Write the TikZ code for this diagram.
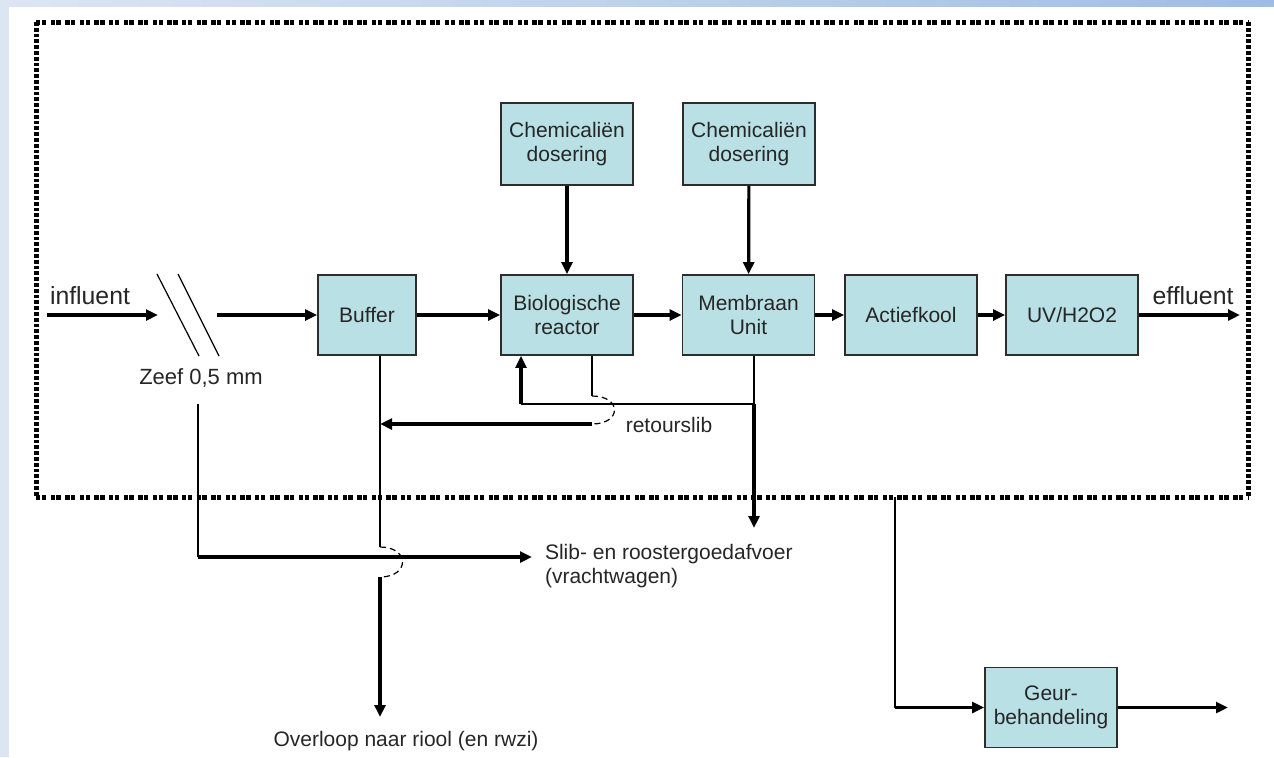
\documentclass[tikz,border=0pt]{standalone}
\usepackage{fontspec}
\setmainfont{Liberation Sans}
\usetikzlibrary{arrows.meta}
\definecolor{cbox}{RGB}{185,224,228}
\definecolor{cedge}{RGB}{45,45,45}
\definecolor{cstripL}{RGB}{220,230,243}
\definecolor{cstripR}{RGB}{158,189,227}
\tikzset{procflow/.style={x=0.5pt,y=-0.5pt,font=\fontsize{10.5}{11.8}\selectfont,text=black!85}}

\begin{document}
\begin{tikzpicture}[procflow,
    unit/.style={draw=cedge,line width=0.8pt,fill=cbox,minimum width=66pt,minimum height=40pt,inner sep=0pt,align=center},
    flow/.style={line width=1.6pt,-{Triangle[length=6pt,width=5.4pt]}},
    pipe/.style={line width=0.8pt},
    hop/.style={line width=0.6pt,densely dashed},
    biglabel/.style={font=\fontsize{12.4}{14}\selectfont}]
    \useasboundingbox (0,0) rectangle (1274,757);
    \fill[white] (0,0) rectangle (1274,757);
    \fill[cstripL] (0,0) rectangle (9,757);
    \shade[left color=cstripL,right color=cstripR] (0,0) rectangle (1274,6);
    % installation boundary
    \draw[line width=2.5pt,dash pattern=on 2.2pt off 0.7pt on 2.2pt off 2.2pt] (36,22) -- (1248,22) (36,497) -- (1248,497);
    \draw[line width=2.5pt,dash pattern=on 1.9pt off 1pt] (36,22) -- (36,497) (1248,22) -- (1248,497);
    % units
    \node[unit,minimum width=49pt] (buffer) at (367,315) {Buffer};
    \node[unit] (bio) at (567,315) {Biologische\\reactor};
    \node[unit] (membr) at (748.5,315) {Membraan\\Unit};
    \node[unit] (actief) at (911,315) {Actiefkool};
    \node[unit] (uv) at (1072,315) {UV/H2O2};
    \node[unit,minimum height=41pt] (chem1) at (567,144) {Chemicaliën\\dosering};
    \node[unit,minimum height=41pt] (chem2) at (749,144) {Chemicaliën\\dosering};
    \node[unit] (geur) at (1051,707.5) {Geur-\\behandeling};
    % labels
    \node[biglabel] (influent) at (90,296) {influent};
    \node[font=\fontsize{11}{13}\selectfont] (zeef) at (201,378) {Zeef 0,5 mm};
    \node[biglabel] (effluent) at (1193,296) {effluent};
    \node (retour) at (669,425) {retourslib};
    \node[anchor=west,align=left] (afvoer) at (538,566) {Slib- en roostergoedafvoer\\(vrachtwagen)};
    \node (overloop) at (406,741) {Overloop naar riool (en rwzi)};
    % main line
    \coordinate (in0) at (47,315);
    \coordinate (in1) at (158,315);
    \coordinate (zeef0) at (217,315);
    \coordinate (uit) at (1240,315);
    \draw[flow] (in0) -- (in1);
    \draw[pipe,line width=0.6pt] (157,274) -- (199,356) (178,274) -- (219,356);
    \draw[flow] (zeef0) -- (buffer);
    \draw[flow] (buffer) -- (bio);
    \draw[flow] (bio) -- (membr);
    \draw[flow] (membr) -- (actief);
    \draw[flow] (actief) -- (uv);
    \draw[flow] (uv) -- (uit);
    \draw[flow] (chem1) -- (bio);
    \draw[flow] (chem2) -- (membr);
    % zeefgoed
    \coordinate (zeefdown) at (198,404);
    \coordinate (zeefbend) at (198,557);
    \coordinate (afvoerpt) at (532,557);
    \draw[pipe] (zeefdown) -- (zeefbend);
    \draw[flow] (zeefbend) -- (afvoerpt);
    % overloop
    \coordinate (ovl1) at (380,547);
    \coordinate (ovl2) at (380,577);
    \coordinate (ovlend) at (380,717);
    \draw[pipe] (ovl1 |- buffer.south) -- (ovl1);
    \draw[hop] (ovl1) .. controls +(30,0) and +(30,0) .. (ovl2);
    \draw[flow] (ovl2) -- (ovlend);
    % retourslib
    \coordinate (ret1) at (754,404);
    \coordinate (ret2) at (521,404);
    \coordinate (slibuit) at (754,528);
    \draw[pipe] (ret1 |- membr.south) -- (ret1) -- (ret2);
    \draw[flow] (ret2) -- (ret2 |- bio.south);
    \draw[flow] (ret1) -- (slibuit);
    \coordinate (bio1) at (592,396);
    \coordinate (bio2) at (592,424);
    \draw[pipe] (bio1 |- bio.south) -- (bio1);
    \draw[hop] (bio1) .. controls +(30,0) and +(30,0) .. (bio2);
    \draw[flow] (bio2) -- (bio2 -| ovl1);
    % geur
    \coordinate (geur0) at (895,497);
    \coordinate (geuruit) at (1228,707.5);
    \draw[pipe] (geur0) -- (geur0 |- geur.west);
    \draw[flow] (geur0 |- geur.west) -- (geur.west);
    \draw[flow] (geur.east) -- (geuruit);
\end{tikzpicture}
\end{document}
